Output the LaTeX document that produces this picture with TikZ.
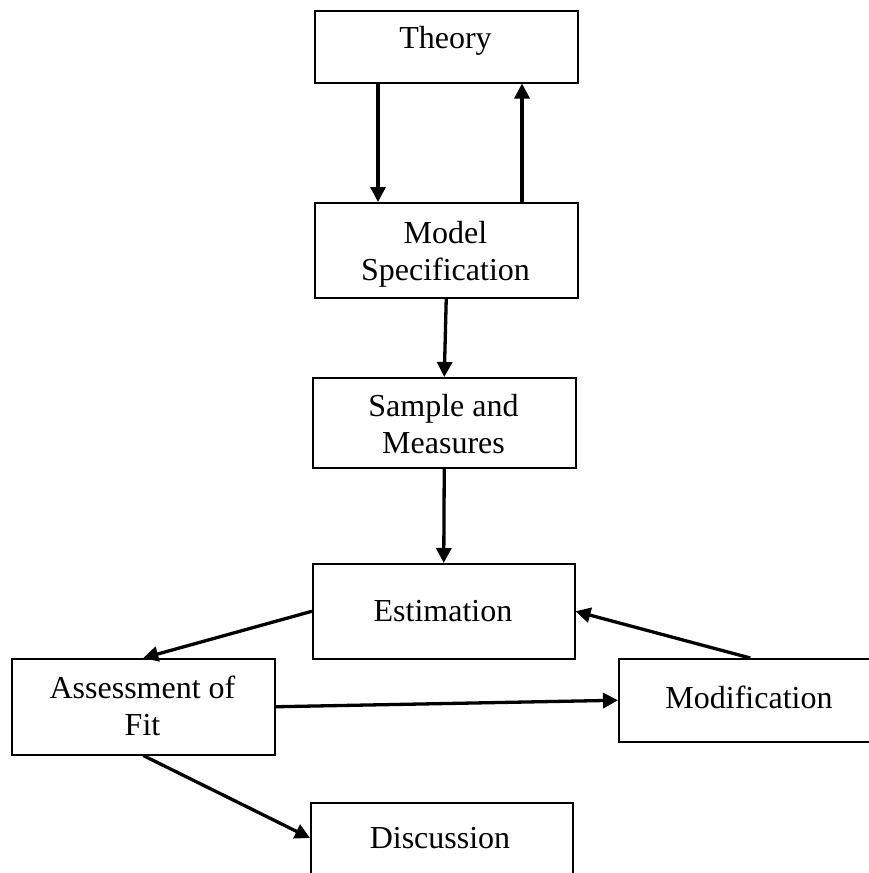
\documentclass[tikz,border=0pt]{standalone}
\usepackage{fontspec}
\setmainfont{Liberation Serif}
\usetikzlibrary{arrows.meta}
\begin{document}
\begin{tikzpicture}[x=1pt,y=-1pt,
  stage/.style={draw, line width=1.5pt, rectangle, inner sep=0pt, anchor=north west},
  boxtext/.style={anchor=base, inner sep=0pt, font=\fontsize{32}{37}\selectfont},
  flow/.style={line width=3.3pt, -{Triangle[length=15pt,width=15pt]}}]
\useasboundingbox (0,0) rectangle (869,873);
\clip (0,0) rectangle (869,873);

% stage boxes
\node[stage, minimum width=263pt, minimum height=72pt] (theory) at (314,10) {};
\node[stage, minimum width=263pt, minimum height=95pt] (model)  at (314,202) {};
\node[stage, minimum width=263pt, minimum height=90pt] (sample) at (312,377) {};
\node[stage, minimum width=262pt, minimum height=95pt] (est)    at (312,563) {};
\node[stage, minimum width=263pt, minimum height=96pt] (assess) at (11,658) {};
\node[stage, minimum width=263pt, minimum height=83pt] (modif)  at (618,658) {};
\node[stage, minimum width=262pt, minimum height=95pt] (disc)   at (310,802) {};

% box texts
\node[boxtext] (theoryT)  at (445.5,48)  {Theory};
\node[boxtext] (modelT1)  at (445.5,243) {Model};
\node[boxtext] (modelT2)  at (445.5,280) {Specification};
\node[boxtext] (sampleT1) at (443.5,416) {Sample and};
\node[boxtext] (sampleT2) at (443.5,453) {Measures};
\node[boxtext] (estT)     at (443,621)   {Estimation};
\node[boxtext] (assessT1) at (142.5,698) {Assessment of};
\node[boxtext] (assessT2) at (142.5,735) {Fit};
\node[boxtext] (modifT)   at (749,708)   {Modification};
\node[boxtext] (discT)    at (440,848)   {Discussion};

% connectors
\draw[flow] ([xshift=64pt]theory.south west) -- ([xshift=64pt]model.north west);
\draw[flow] ([xshift=208pt]model.north west) -- ([xshift=208pt]theory.south west);
\draw[flow] (model.south) -- (sample.north);
\draw[flow] (sample.south) -- (est.north);
\draw[flow] (est.west) -- (assess.north);
\draw[flow] (modif.north) -- (est.east);
\draw[flow] (assess.east) -- (modif.west);
\draw[flow] (assess.south) -- ([yshift=-36pt]disc.north west);
\end{tikzpicture}
\end{document}
